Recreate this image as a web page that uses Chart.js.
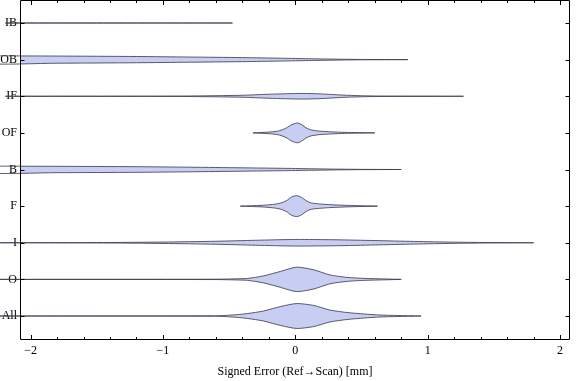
<!DOCTYPE html>
<html><head><meta charset="utf-8">
<script src="https://cdn.jsdelivr.net/npm/chart.js@4/dist/chart.umd.min.js"></script>
<style>html,body{margin:0;padding:0;background:#fff}#wrap{width:576px;height:381px}</style>
</head><body><div id="wrap"><canvas id="c" width="576" height="381"></canvas></div>
<script>
// Categories from bottom (1) to top (9)
const categories = ["All","O","I","F","B","OF","IF","OB","IB"];
const xTickValues = [-2,-1.8,-1.6,-1.4,-1.2,-1,-0.8,-0.6,-0.4,-0.2,0,0.2,0.4,0.6,0.8,1,1.2,1.4,1.6,1.8,2];
const xAxisTitle = "Signed Error (Ref\u2192Scan) [mm]";

// Violin profiles: signed error (mm) and half-width (category units)
const allX = [-2.25,-0.62,-0.54,-0.45,-0.36,-0.24,-0.11,0.01,0.14,0.26,0.39,0.52,0.64,0.77,0.95];
const allW = [0,0.005,0.014,0.035,0.068,0.137,0.26,0.34,0.287,0.164,0.096,0.055,0.027,0.014,0];
const oX = [-2.25,-0.6,-0.45,-0.36,-0.24,-0.11,0.01,0.14,0.26,0.39,0.52,0.69,0.80];
const oW = [0,0.005,0.015,0.027,0.096,0.22,0.333,0.26,0.123,0.055,0.027,0.011,0];
const iX = [-2.23,-1.5,-1.0,-0.6,-0.3,0.0,0.3,0.6,0.9,1.2,1.5,1.80];
const iW = [0,0.005,0.019,0.041,0.068,0.09,0.082,0.06,0.036,0.016,0.005,0];
const fX = [-0.415,-0.25,-0.15,-0.1,-0.06,-0.03,0.01,0.05,0.08,0.12,0.2,0.3,0.45,0.62];
const fW = [0,0.022,0.055,0.096,0.164,0.246,0.287,0.232,0.15,0.087,0.055,0.033,0.014,0];
const bX = [-2.35,-1.8,-1.2,-0.8,-0.4,-0.1,0.1,0.3,0.5,0.80];
const bW = [0.093,0.087,0.077,0.063,0.046,0.033,0.022,0.011,0.004,0];
const ofX = [-0.32,-0.2,-0.14,-0.1,-0.06,-0.03,0.0,0.02,0.05,0.08,0.12,0.18,0.25,0.35,0.45,0.60];
const ofW = [0,0.022,0.044,0.082,0.15,0.22,0.26,0.27,0.22,0.14,0.082,0.049,0.033,0.016,0.008,0];
const ifX = [-2.19,-1.0,-0.7,-0.4,-0.2,0.05,0.2,0.35,0.5,0.7,1.27];
const ifW = [0,0.003,0.011,0.027,0.055,0.077,0.063,0.033,0.014,0.005,0];
const obX = [-2.35,-1.8,-1.2,-0.8,-0.4,-0.1,0.1,0.3,0.5,0.85];
const obW = [0.104,0.098,0.085,0.071,0.055,0.038,0.025,0.014,0.005,0];
const ibX = [-2.19,-1.5,-0.475];
const ibW = [0,0.002,0];

const profiles = [[allX,allW],[oX,oW],[iX,iW],[fX,fW],[bX,bW],[ofX,ofW],[ifX,ifW],[obX,obW],[ibX,ibW]];

function violin(xs, ws, c){
  const up = xs.map((x,i)=>({x:x, y:c+ws[i]}));
  const lo = xs.map((x,i)=>({x:x, y:c-ws[i]})).reverse();
  const pts = up.concat(lo);
  pts.push(up[0]);
  return pts;
}

const datasets = profiles.map((p,i)=>({
  data: violin(p[0], p[1], i+1),
  showLine: true,
  fill: 'shape',
  backgroundColor: 'rgba(200,205,242,1)',
  borderColor: 'rgba(55,55,75,0.8)',
  borderWidth: 1,
  pointRadius: 0,
  tension: 0.25,
  clip: false
}));

const frameTicks = {
  id: 'frameTicks',
  afterDatasetsDraw(chart){
    const ctx = chart.ctx, a = chart.chartArea;
    const xs = chart.scales.x, ys = chart.scales.y;
    ctx.save();
    ctx.strokeStyle = '#000';
    ctx.lineWidth = 1;
    const L = a.left+0.5, R = a.right-0.5, T = a.top+0.5, B = a.bottom-0.5;
    ctx.beginPath();
    ctx.rect(L, T, R-L, B-T);
    ctx.stroke();
    ctx.beginPath();
    xTickValues.forEach(v=>{
      const px = Math.round(xs.getPixelForValue(v))+0.5;
      const major = Math.abs(v-Math.round(v))<1e-9;
      const len = major?4.5:2.5;
      ctx.moveTo(px,B); ctx.lineTo(px,B-len);
      ctx.moveTo(px,T); ctx.lineTo(px,T+len);
    });
    categories.forEach((c,i)=>{
      const py = Math.round(ys.getPixelForValue(i+1))+0.5;
      ctx.moveTo(L,py); ctx.lineTo(L+4,py);
      ctx.moveTo(R,py); ctx.lineTo(R-4,py);
    });
    ctx.stroke();
    ctx.restore();
  }
};

const serif = "'Liberation Serif','DejaVu Serif',serif";

new Chart(document.getElementById('c'), {
  type: 'scatter',
  data: { datasets },
  options: {
    responsive: false,
    animation: false,
    devicePixelRatio: 1,
    layout: { padding: { top: 0, right: 6, left: 0, bottom: 0 } },
    plugins: { legend: {display:false}, tooltip: {enabled:false} },
    scales: {
      x: {
        type: 'linear', min: -2.08, max: 2.075,
        afterBuildTicks(s){ s.ticks = xTickValues.map(v=>({value:v})); },
        afterFit(s){ s.height = 41; s.paddingLeft = 0; s.paddingRight = 0; },
        grid: { display: false, drawTicks: false },
        border: { display: false },
        ticks: {
          autoSkip: false, maxRotation: 0, padding: 4,
          color: '#000', font: { family: serif, size: 12 },
          callback(v){ return Math.abs(v-Math.round(v))<1e-9 ? String(Math.round(v)).replace('-','\u2212') : ''; }
        },
        title: { display: true, text: xAxisTitle, color: '#000', font: { family: serif, size: 12 }, padding: { top: 0, bottom: 2 } }
      },
      y: {
        type: 'linear', min: 0.345, max: 9.628,
        afterBuildTicks(s){ s.ticks = categories.map((c,i)=>({value:i+1})); },
        afterFit(s){ s.width = 20; s.paddingTop = 0; s.paddingBottom = 0; },
        grid: { display: false, drawTicks: false },
        border: { display: false },
        ticks: {
          autoSkip: false, padding: 3,
          color: '#000', font: { family: serif, size: 12 },
          callback(v){ return categories[Math.round(v)-1] || ''; }
        }
      }
    }
  },
  plugins: [frameTicks]
});
</script>
</body></html>
